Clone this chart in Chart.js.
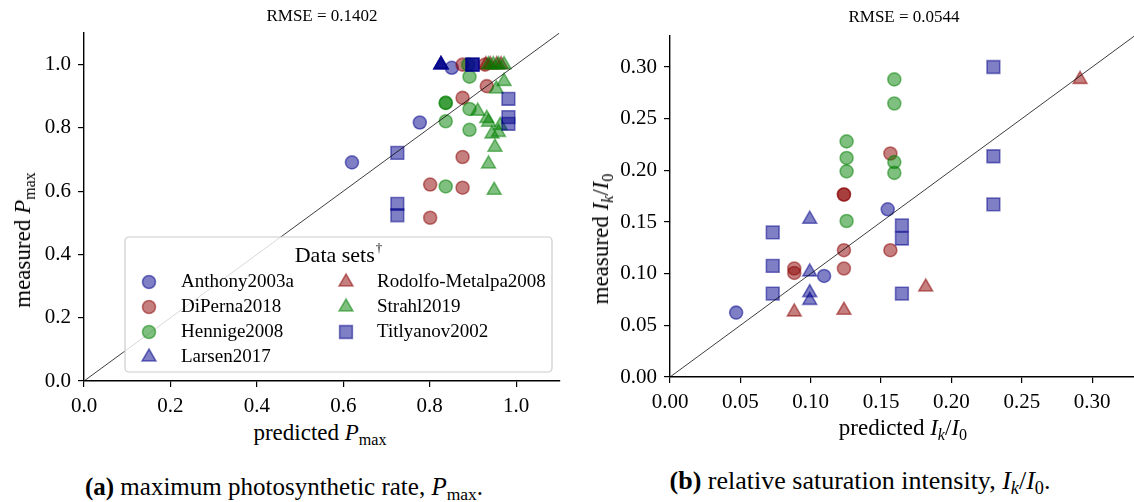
<!DOCTYPE html>
<html>
<head>
<meta charset="utf-8">
<script src="https://cdn.jsdelivr.net/npm/chart.js@4.4.1/dist/chart.umd.min.js"></script>
<style>
  body { margin: 0; background: #fff; font-family: "Liberation Serif", serif; color: #000; }
  #wrap { position: relative; width: 1134px; height: 502px; overflow: hidden; }
  .box { position: absolute; top: 0; }
  .lbl { position: absolute; transform: translate(-50%, -50%); white-space: nowrap; }
  .rot { transform: translate(-50%, -50%) rotate(-90deg); }
  sub { font-size: 70%; vertical-align: -0.3em; line-height: 0; }
</style>
</head>
<body>
<div id="wrap">
  <div class="box" style="left:0;width:570px;height:420px"><canvas id="c1" width="570" height="420"></canvas></div>
  <div class="box" style="left:586px;width:559px;height:420px"><canvas id="c2" width="559" height="420"></canvas></div>

  <div class="lbl" style="left:322px;top:16px;font-size:17px">RMSE = 0.1402</div>
  <div class="lbl" style="left:904px;top:17px;font-size:17px">RMSE = 0.0544</div>

  <div class="lbl rot" style="left:23px;top:240px;font-size:23px">measured <i>P</i><sub>max</sub></div>
  <div class="lbl rot" style="left:601px;top:239px;font-size:23px">measured <i>I<sub>k</sub></i>/<i>I</i><sub>0</sub></div>

  <div class="lbl" style="left:320px;top:433px;font-size:23px">predicted <i>P</i><sub>max</sub></div>
  <div class="lbl" style="left:903px;top:428px;font-size:23px">predicted <i>I<sub>k</sub></i>/<i>I</i><sub>0</sub></div>

  <div class="lbl" style="left:284px;top:487px;font-size:25px"><b>(a)</b> maximum photosynthetic rate, <i>P</i><sub>max</sub>.</div>
  <div class="lbl" style="left:860px;top:481px;font-size:26px"><b>(b)</b> relative saturation intensity, <i>I<sub>k</sub></i>/<i>I</i><sub>0</sub>.</div>
</div>

<script>
// data sets (legend order)
var seriesNames = ['Anthony2003a', 'DiPerna2018', 'Hennige2008', 'Larsen2017', 'Rodolfo-Metalpa2008', 'Strahl2019', 'Titlyanov2002'];

// panel (a): [predicted, measured] Pmax
var anthonyPmax = [[0.851, 0.99], [0.777, 0.817], [0.620, 0.691]];
var dipernaPmax = [[0.876, 1.0], [0.928, 1.0], [0.932, 0.932], [0.876, 0.895], [0.876, 0.708], [0.801, 0.621], [0.876, 0.611], [0.801, 0.516]];
var hennigePmax = [[0.889, 1.0], [0.892, 0.962], [0.837, 0.879], [0.837, 0.879], [0.892, 0.860], [0.837, 0.821], [0.892, 0.794], [0.837, 0.615]];
var larsenPmax = [[0.826, 1.0], [0.826, 1.0], [0.826, 1.0], [0.826, 1.0]];
var rodolfoPmax = [[0.930, 1.0], [0.940, 1.0], [0.955, 1.0], [0.965, 1.0]];
var strahlPmax = [[0.936, 1.0], [0.947, 1.0], [0.959, 1.0], [0.972, 1.0], [0.972, 0.947], [0.954, 0.923], [0.911, 0.853], [0.932, 0.830],
                  [0.936, 0.818], [0.963, 0.808], [0.944, 0.781], [0.959, 0.786], [0.951, 0.739], [0.936, 0.686], [0.949, 0.603]];
var titlyanovPmax = [[0.899, 1.0], [0.899, 1.0], [0.899, 1.0], [0.982, 0.892], [0.982, 0.834], [0.982, 0.813], [0.725, 0.721], [0.725, 0.560], [0.725, 0.524]];

// panel (b): [predicted, measured] Ik/I0
var anthonyIk = [[0.047, 0.0623], [0.1095, 0.0978], [0.1547, 0.1623]];
var dipernaIk = [[0.0883, 0.105], [0.0883, 0.1007], [0.1236, 0.1766], [0.1236, 0.1766], [0.1236, 0.1227], [0.1236, 0.105], [0.1566, 0.2163], [0.1566, 0.1227]];
var hennigeIk = [[0.1255, 0.228], [0.1255, 0.212], [0.1255, 0.199], [0.1255, 0.151], [0.1594, 0.288], [0.1594, 0.2647], [0.1594, 0.208], [0.1594, 0.1975]];
var larsenIk = [[0.0993, 0.1527], [0.0993, 0.1017], [0.0993, 0.0817], [0.0993, 0.0742]];
var rodolfoIk = [[0.0883, 0.063], [0.1236, 0.0646], [0.1817, 0.0871], [0.2914, 0.288]];
var strahlIk = [];
var titlyanovIk = [[0.073, 0.140], [0.073, 0.1075], [0.073, 0.0807], [0.1648, 0.1468], [0.1648, 0.134], [0.1648, 0.0807], [0.2298, 0.300], [0.2298, 0.2136], [0.2298, 0.167]];

// axis ticks and limits
var pmaxTicks = [0.0, 0.2, 0.4, 0.6, 0.8, 1.0];
var ikTicks = [0.00, 0.05, 0.10, 0.15, 0.20, 0.25, 0.30];
var pmaxLimit = 1.1;
var ikLimit = 0.33;

// marker styles
var rgbs = ['0,0,139', '139,0,0', '0,128,0', '0,0,139', '139,0,0', '0,128,0', '0,0,139'];
var shapes = ['circle', 'circle', 'circle', 'triangle', 'triangle', 'triangle', 'rect'];
var radii = [6.5, 6.5, 6.5, 8, 8, 8, 9];
var fontName = '"Liberation Serif", serif';

function toPoints(pairs) {
    return pairs.map(function (p) { return { x: p[0], y: p[1] }; });
}

function buildDatasets(groups, limit) {
    var sets = [{
        type: 'line',
        data: [{ x: 0, y: 0 }, { x: limit, y: limit }],
        borderColor: 'rgba(0,0,0,0.85)',
        borderWidth: 0.9,
        pointRadius: 0,
        showLine: true,
        order: 0
    }];
    groups.forEach(function (g, i) {
        sets.push({
            label: seriesNames[i],
            data: toPoints(g),
            pointStyle: shapes[i],
            pointRadius: radii[i],
            pointHoverRadius: radii[i],
            backgroundColor: 'rgba(' + rgbs[i] + ',0.5)',
            borderColor: 'rgba(' + rgbs[i] + ',0.5)',
            borderWidth: 1.6,
            order: groups.length - i
        });
    });
    return sets;
}

function drawMarker(ctx, shape, x, y, r) {
    ctx.beginPath();
    if (shape === 'circle') {
        ctx.arc(x, y, r, 0, Math.PI * 2);
    } else if (shape === 'triangle') {
        for (var k = 0; k < 3; k++) {
            var a = k * 2 * Math.PI / 3;
            var px = x + Math.sin(a) * r, py = y - Math.cos(a) * r;
            if (k === 0) ctx.moveTo(px, py); else ctx.lineTo(px, py);
        }
    } else {
        var s = r / Math.SQRT2;
        ctx.rect(x - s, y - s, 2 * s, 2 * s);
    }
    ctx.closePath();
    ctx.fill();
    ctx.stroke();
}

// legend box drawn inside panel (a)
var legendPlugin = {
    id: 'dataSetsLegend',
    afterDatasetsDraw: function (chart) {
        var ctx = chart.ctx;
        var bx = 125, by = 237, bw = 427, bh = 135, rad = 4;
        ctx.save();
        ctx.beginPath();
        ctx.moveTo(bx + rad, by);
        ctx.arcTo(bx + bw, by, bx + bw, by + bh, rad);
        ctx.arcTo(bx + bw, by + bh, bx, by + bh, rad);
        ctx.arcTo(bx, by + bh, bx, by, rad);
        ctx.arcTo(bx, by, bx + bw, by, rad);
        ctx.closePath();
        ctx.fillStyle = 'rgba(255,255,255,0.8)';
        ctx.fill();
        ctx.strokeStyle = '#cccccc';
        ctx.lineWidth = 1.2;
        ctx.stroke();

        ctx.fillStyle = '#000';
        ctx.textBaseline = 'middle';
        ctx.font = '22px ' + fontName;
        var title = 'Data sets';
        var tw = ctx.measureText(title).width;
        ctx.font = '13px ' + fontName;
        var dw = ctx.measureText('\u2020').width;
        var tx = 338 - (tw + dw) / 2;
        ctx.font = '22px ' + fontName;
        ctx.textAlign = 'left';
        ctx.fillText(title, tx, 256);
        ctx.font = '13px ' + fontName;
        ctx.fillText('\u2020', tx + tw + 1, 249);

        ctx.font = '19px ' + fontName;
        var colX = [149, 346], textX = [181, 377], rowY = [282, 307, 332, 357];
        for (var i = 0; i < seriesNames.length; i++) {
            var col = i < 4 ? 0 : 1, row = i < 4 ? i : i - 4;
            ctx.fillStyle = 'rgba(' + rgbs[i] + ',0.5)';
            ctx.strokeStyle = 'rgba(' + rgbs[i] + ',0.5)';
            ctx.lineWidth = 1.6;
            drawMarker(ctx, shapes[i], colX[col], rowY[row], radii[i]);
            ctx.fillStyle = '#000';
            ctx.fillText(seriesNames[i], textX[col], rowY[row]);
        }
        ctx.restore();
    }
};

function axis(ticks, limit, decimals, fixedSize, isX) {
    return {
        type: 'linear',
        min: 0,
        max: limit,
        afterBuildTicks: function (s) { s.ticks = ticks.map(function (v) { return { value: v }; }); },
        afterFit: function (s) { if (isX) s.height = fixedSize; else s.width = fixedSize; },
        ticks: {
            autoSkip: false,
            maxRotation: 0,
            padding: 7,
            color: '#000',
            font: { family: fontName, size: 21 },
            callback: function (v) { return Number(v).toFixed(decimals); }
        },
        grid: { display: true, drawOnChartArea: false, drawTicks: true, tickLength: 6, color: '#000', lineWidth: 1.2 },
        border: { display: true, color: '#000', width: 1.4 }
    };
}

function makeChart(id, groups, ticks, limit, decimals, padTop, yWidth, xHeight, plugins) {
    return new Chart(document.getElementById(id), {
        type: 'scatter',
        data: { datasets: buildDatasets(groups, limit) },
        options: {
            responsive: false,
            animation: false,
            devicePixelRatio: 1,
            layout: { padding: { top: padTop, right: 0, left: 0, bottom: 0 } },
            plugins: { legend: { display: false }, tooltip: { enabled: false } },
            scales: {
                x: axis(ticks, limit, decimals, xHeight, true),
                y: axis(ticks, limit, decimals, yWidth, false)
            }
        },
        plugins: plugins
    });
}

function drawCharts() {
    makeChart('c1', [anthonyPmax, dipernaPmax, hennigePmax, larsenPmax, rodolfoPmax, strahlPmax, titlyanovPmax],
        pmaxTicks, pmaxLimit, 1, 33, 84, 39, [legendPlugin]);
    makeChart('c2', [anthonyIk, dipernaIk, hennigeIk, larsenIk, rodolfoIk, strahlIk, titlyanovIk],
        ikTicks, ikLimit, 2, 36, 84, 43, []);
}

window.onload = drawCharts;
</script>
</body>
</html>
